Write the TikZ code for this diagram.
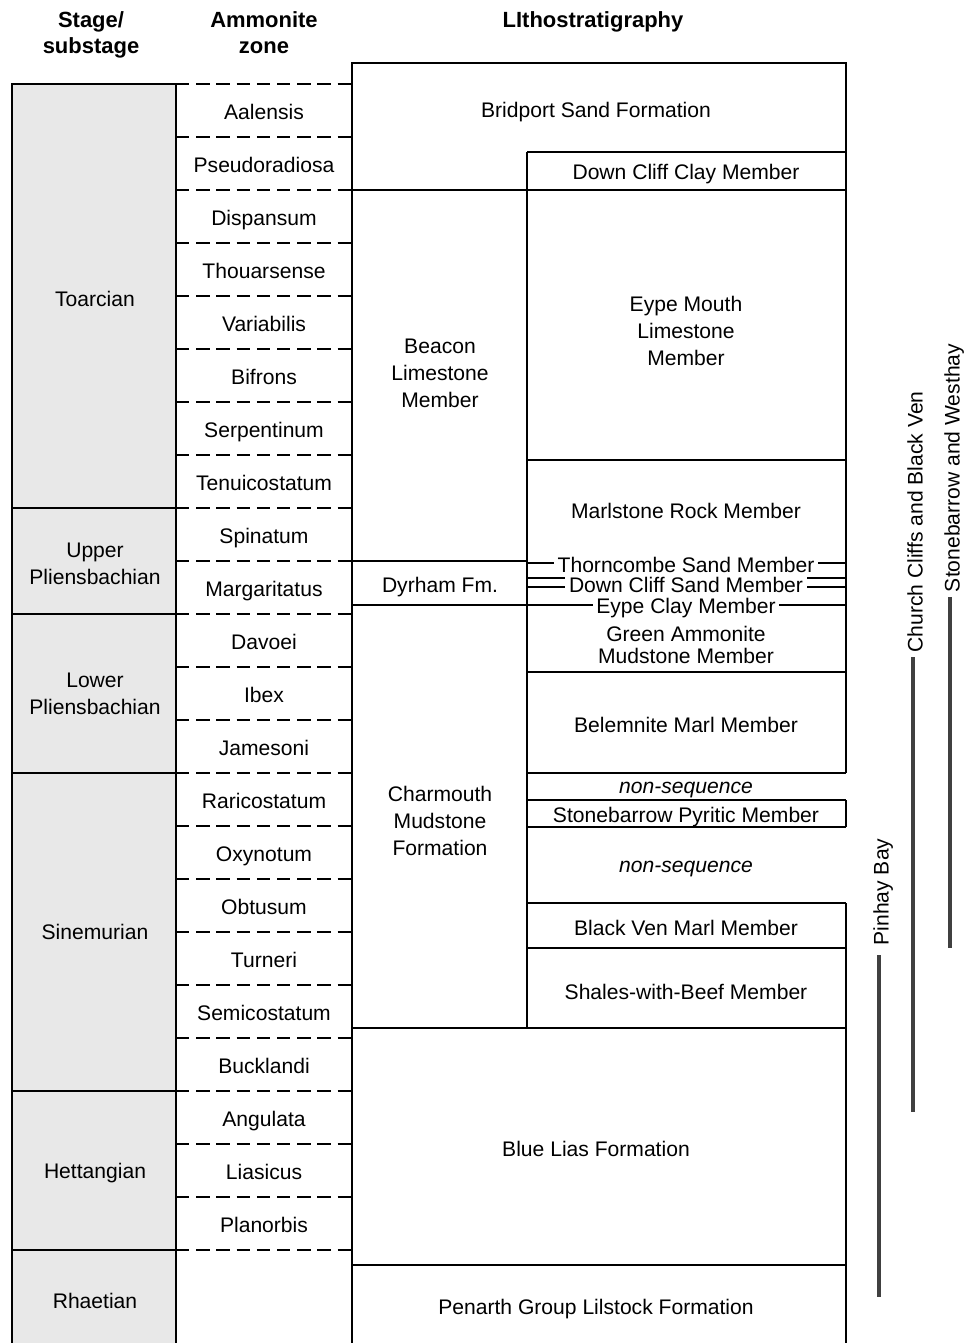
\documentclass[tikz,border=0pt]{standalone}
\usepackage{fontspec}
\setmainfont{Liberation Sans}

\begin{document}
\begin{tikzpicture}[x=0.2mm,y=-0.2mm,line width=1.1pt]
	\tikzstyle{multi}=[font=\fontsize{12}{15.3}\selectfont,align=center,inner sep=1pt]
	\tikzstyle{lbl}=[font=\fontsize{12}{15.3}\selectfont,inner sep=1pt,text height=8.6pt,text depth=0pt]
	\tikzstyle{gap}=[lbl,font=\itshape\fontsize{12}{15.3}\selectfont]
	\tikzstyle{head}=[font=\bfseries\fontsize{12.5}{14.8}\selectfont,align=center]
	\tikzstyle{thin}=[lbl,fill=white,inner xsep=2pt,inner ysep=2pt]
	\tikzstyle{zoneline}=[line width=1pt,dash pattern=on 7.6pt off 3.9pt]
	\tikzstyle{bar}=[line width=2.8pt,draw=black!75]
	\useasboundingbox (0,0) rectangle (964,1343);
	
	% column heads
	\node[head](hstage) at (91,35){Stage/\\substage};
	\node[head](hzone) at (264,33){Ammonite\\zone};
	\node[head](hlith) at (593,22){LIthostratigraphy};
	
	% stages
	\fill[black!9] (12,84) rectangle (176,1343);
	\draw (12,1343) -- (12,84) -- (176,84) -- (176,1343);
	\foreach \y in {508,614,773,1091,1250}
		\draw (12,\y) -- (176,\y);
	\node[lbl](toarcian) at (95,299){Toarcian};
	\node[multi](upliens) at (95,564){Upper\\Pliensbachian};
	\node[multi](lpliens) at (95,694){Lower\\Pliensbachian};
	\node[lbl](sinem) at (95,932){Sinemurian};
	\node[lbl](hettang) at (95,1171){Hettangian};
	\node[lbl](rhaet) at (95,1301){Rhaetian};
	
	% ammonite zones
	\foreach \i in {0,...,22}
		\draw[zoneline] (176,84+53*\i) -- (352,84+53*\i);
	\foreach \z [count=\i] in {Aalensis,Pseudoradiosa,Dispansum,Thouarsense,Variabilis,Bifrons,Serpentinum,Tenuicostatum,Spinatum,Margaritatus,Davoei,Ibex,Jamesoni,Raricostatum,Oxynotum,Obtusum,Turneri,Semicostatum,Bucklandi,Angulata,Liasicus,Planorbis}
		\node[lbl](z\i) at (264,84+53*\i-25){\z};
	
	% lithostratigraphy frame
	\draw (352,1343) -- (352,63) -- (846,63) -- (846,773);
	\draw (846,800) -- (846,827);
	\draw (846,903) -- (846,1343);
	\draw (527,152) -- (527,1028);
	\draw (527,152) -- (846,152);
	\draw (352,190) -- (846,190);
	\draw (527,460) -- (846,460);
	\draw (352,561) -- (527,561);
	\draw (527,563) -- (846,563);
	\draw (527,578) -- (846,578);
	\draw (527,587) -- (846,587);
	\draw (352,605) -- (846,605);
	\draw (527,672) -- (846,672);
	\draw (527,773) -- (846,773);
	\draw (527,800) -- (846,800);
	\draw (527,827) -- (846,827);
	\draw (527,903) -- (846,903);
	\draw (527,948) -- (846,948);
	\draw (352,1028) -- (846,1028);
	\draw (352,1265) -- (846,1265);
	
	% formations and members
	\node[lbl](bridport) at (596,110){Bridport Sand Formation};
	\node[lbl](dcclay) at (686,172){Down Cliff Clay Member};
	\node[multi](eypemouth) at (686,331){Eype Mouth\\Limestone\\Member};
	\node[multi](beacon) at (440,373){Beacon\\Limestone\\Member};
	\node[lbl](marlstone) at (686,511){Marlstone Rock Member};
	\node[thin](thorn) at (686,565){Thorncombe Sand Member};
	\node[lbl](dyrham) at (440,585){Dyrham Fm.};
	\node[thin](dcsand) at (686,585){Down Cliff Sand Member};
	\node[thin](eypeclay) at (686,606){Eype Clay Member};
	\node[multi,font=\fontsize{12}{12}\selectfont](greenamm) at (686,645){Green Ammonite\\Mudstone Member};
	\node[lbl](belemnite) at (686,725){Belemnite Marl Member};
	\node[gap](nonseq1) at (686,786){non-sequence};
	\node[lbl](pyritic) at (686,815){Stonebarrow Pyritic Member};
	\node[gap](nonseq2) at (686,865){non-sequence};
	\node[multi](charmouth) at (440,821){Charmouth\\Mudstone\\Formation};
	\node[lbl](blackven) at (686,928){Black Ven Marl Member};
	\node[lbl](beef) at (686,992){Shales-with-Beef Member};
	\node[lbl](bluelias) at (596,1149){Blue Lias Formation};
	\node[lbl](penarth) at (596,1307){Penarth Group Lilstock Formation};
	
	% sections
	\node[lbl,rotate=90](church) at (915,522){Church Cliffs and Black Ven};
	\node[lbl,rotate=90](stoneb) at (952,468){Stonebarrow and Westhay};
	\node[lbl,rotate=90](pinhay) at (881,892){Pinhay Bay};
	\draw[bar] (913,657) -- (913,1112);
	\draw[bar] (950,597) -- (950,948);
	\draw[bar] (879,955) -- (879,1297);
	
\end{tikzpicture}
\end{document}
